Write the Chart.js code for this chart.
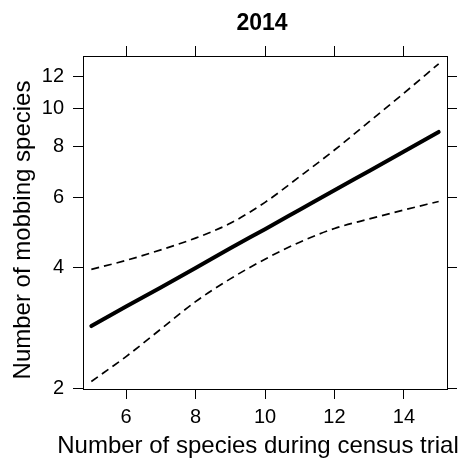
<!DOCTYPE html>
<html>
<head>
<meta charset="utf-8">
<script src="https://cdn.jsdelivr.net/npm/chart.js@4/dist/chart.umd.min.js"></script>
<style>
  html, body { margin: 0; padding: 0; background: #fff; }
  #wrap { width: 463px; height: 458px; }
</style>
</head>
<body>
<div id="wrap"><canvas id="chart"></canvas></div>
<script>
// values
const speciesCounts = [5, 6, 7, 8, 9, 10, 11, 12, 13, 14, 15];
const fitted = [2.86, 3.20, 3.57, 3.99, 4.47, 4.99, 5.58, 6.24, 6.97, 7.79, 8.72];
const lowerBand = [2.08, 2.40, 2.81, 3.29, 3.75, 4.20, 4.63, 5.01, 5.29, 5.57, 5.85];
const upperBand = [3.96, 4.17, 4.43, 4.74, 5.16, 5.82, 6.75, 7.86, 9.25, 10.9, 12.9];
const xTicks = [6, 8, 10, 12, 14];
const yTicks = [2, 4, 6, 8, 10, 12];

const chartTitle = "2014";
const xLabel = "Number of species during census trial";
const yLabel = "Number of mobbing species";

const FONT = "'Liberation Sans', Arial, Helvetica, sans-serif";

const toPoints = (ys) => speciesCounts.map((x, i) => ({ x: x, y: ys[i] }));

const tickGrid = {
  drawOnChartArea: false,
  drawTicks: true,
  tickLength: 10,
  tickColor: "#000",
  tickWidth: 1
};
const boxBorder = { display: true, color: "#000", width: 1 };

const fixedTicks = (values) => (scale) => {
  scale.ticks = values.map((v) => ({ value: v }));
};

// axis titles drawn by hand so the long x label is not squeezed to the plot width
const labelsPlugin = {
  id: "labels",
  afterDraw(chart) {
    const ctx = chart.ctx;
    ctx.save();
    ctx.fillStyle = "#000";
    ctx.textAlign = "center";
    ctx.textBaseline = "middle";

    ctx.font = `bold 23px ${ FONT }`;
    ctx.fillText(chartTitle, 262, 24);

    ctx.font = `24px ${ FONT }`;
    ctx.fillText(xLabel, 258, 446);

    ctx.translate(23, 230);
    ctx.rotate(-Math.PI / 2);
    ctx.fillText(yLabel, 0, 0);
    ctx.restore();
  }
};

new Chart(document.getElementById("chart"), {
  type: "line",
  data: {
    datasets: [
      {
        data: toPoints(upperBand),
        borderColor: "#000",
        borderWidth: 1.7,
        borderDash: [8, 5],
        cubicInterpolationMode: "monotone",
        pointRadius: 0,
        fill: false
      },
      {
        data: toPoints(lowerBand),
        borderColor: "#000",
        borderWidth: 1.7,
        borderDash: [8, 5],
        cubicInterpolationMode: "monotone",
        pointRadius: 0,
        fill: false
      },
      {
        data: toPoints(fitted),
        borderColor: "#000",
        borderWidth: 4,
        borderCapStyle: "round",
        cubicInterpolationMode: "monotone",
        pointRadius: 0,
        fill: false
      }
    ]
  },
  options: {
    responsive: true,
    maintainAspectRatio: false,
    animation: false,
    layout: { padding: 0 },
    plugins: {
      legend: { display: false },
      tooltip: { enabled: false },
      title: { display: false }
    },
    scales: {
      x: {
        type: "linear",
        position: "bottom",
        min: 4.76,
        max: 15.24,
        afterBuildTicks: fixedTicks(xTicks),
        afterFit: (s) => { s.height = 69; },
        grid: tickGrid,
        border: boxBorder,
        ticks: {
          color: "#000",
          padding: 6,
          font: { family: FONT, size: 20 }
        }
      },
      xTop: {
        type: "linear",
        position: "top",
        min: 4.76,
        max: 15.24,
        afterBuildTicks: fixedTicks(xTicks),
        afterFit: (s) => { s.height = 56; },
        grid: tickGrid,
        border: boxBorder,
        ticks: { display: false }
      },
      y: {
        type: "logarithmic",
        position: "left",
        min: 1.992,
        max: 13.49,
        afterBuildTicks: fixedTicks(yTicks),
        afterFit: (s) => { s.width = 83; },
        grid: tickGrid,
        border: boxBorder,
        ticks: {
          color: "#000",
          padding: 9,
          font: { family: FONT, size: 20 },
          callback: (v) => String(v)
        }
      },
      yRight: {
        type: "logarithmic",
        position: "right",
        min: 1.992,
        max: 13.49,
        afterBuildTicks: fixedTicks(yTicks),
        afterFit: (s) => { s.width = 16; },
        grid: tickGrid,
        border: boxBorder,
        ticks: { display: false }
      }
    }
  },
  plugins: [labelsPlugin]
});
</script>
</body>
</html>
